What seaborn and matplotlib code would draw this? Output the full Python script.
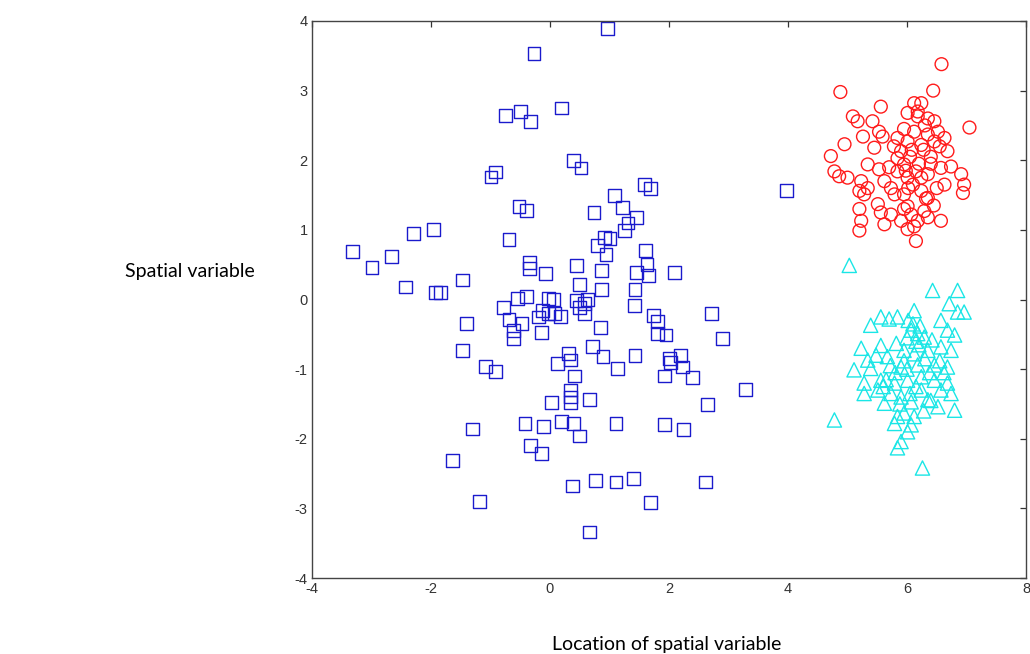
import numpy as np
import pandas as pd
import matplotlib
matplotlib.use("Agg")
import matplotlib.pyplot as plt
import seaborn as sns

# ---- data ----
blue_x = [-0.27, -0.75, -0.50, -0.33, -0.99, -0.92, -0.52, -0.40, -3.32, -2.99,
          -2.66, -2.29, -1.96, -2.43, -1.92, -1.84, -1.47, -0.69, -0.35, -0.35,
          -0.07, -0.54, -0.39, -0.02, 0.97, 0.20, 0.39, 0.52, 1.59, 1.69,
          3.97, 1.08, 0.74, 1.22, 1.45, 1.31, 1.25, 0.91, 1.01, 0.80,
          0.94, 1.60, 1.63, 1.65, 1.45, 2.09, 0.45, 0.86, 0.50, 0.86,
          1.43, 0.06, 0.44, 0.63, -0.78, -0.69, -0.47, -0.62, -0.62, -0.19,
          -0.12, -0.14, -1.41, -1.47, -1.08, -0.91, -1.30, -1.64, -1.19, -0.42,
          -0.11, -0.33, -0.14, -0.03, 0.07, 0.17, 0.58, 0.58, 0.50, 1.42,
          0.85, 1.74, 1.80, 1.81, 1.95, 2.71, 2.90, 0.72, 0.89, 1.13,
          1.43, 0.31, 0.35, 0.13, 0.41, 2.01, 2.03, 2.20, 2.23, 1.92,
          2.40, 3.29, 0.35, 0.35, 0.35, 0.03, 0.66, 2.65, 0.20, 0.39,
          0.49, 1.11, 1.93, 2.24, 0.38, 0.77, 1.11, 1.41, 2.62, 1.69,
          0.66]
blue_y = [3.53, 2.64, 2.70, 2.56, 1.76, 1.83, 1.34, 1.28, 0.69, 0.46,
          0.62, 0.95, 1.01, 0.18, 0.10, 0.10, 0.28, 0.86, 0.53, 0.44,
          0.37, 0.02, 0.04, 0.01, 3.89, 2.75, 2.00, 1.89, 1.65, 1.60,
          1.56, 1.49, 1.25, 1.32, 1.18, 1.10, 0.99, 0.89, 0.88, 0.78,
          0.65, 0.70, 0.50, 0.34, 0.39, 0.39, 0.49, 0.42, 0.21, 0.14,
          0.14, 0.00, -0.01, 0.00, -0.11, -0.29, -0.35, -0.44, -0.56, -0.25,
          -0.16, -0.47, -0.35, -0.73, -0.96, -1.03, -1.86, -2.31, -2.90, -1.78,
          -1.82, -2.10, -2.21, -0.20, -0.20, -0.24, -0.06, -0.20, -0.12, -0.09,
          -0.40, -0.23, -0.32, -0.49, -0.51, -0.20, -0.56, -0.68, -0.82, -0.99,
          -0.80, -0.77, -0.87, -0.92, -1.10, -0.85, -0.90, -0.80, -0.97, -1.10,
          -1.12, -1.29, -1.30, -1.40, -1.48, -1.48, -1.44, -1.51, -1.75, -1.78,
          -1.96, -1.78, -1.80, -1.87, -2.68, -2.60, -2.62, -2.57, -2.62, -2.92,
          -3.34]

red_x = [6.58, 4.88, 6.44, 5.56, 6.12, 6.24, 5.09, 5.17, 5.42, 6.01,
         6.18, 6.35, 6.46, 7.05, 5.53, 5.59, 5.26, 4.95, 5.45, 5.84,
         5.90, 6.01, 6.12, 6.24, 6.35, 6.46, 6.52, 6.63, 6.68, 4.72,
         5.84, 5.95, 4.78, 4.86, 5.00, 5.34, 5.53, 5.23, 5.20, 5.34,
         5.28, 5.62, 5.73, 5.84, 6.01, 6.15, 6.24, 6.35, 6.57, 6.74,
         6.91, 6.96, 6.94, 6.63, 5.79, 5.95, 6.24, 6.35, 5.20, 5.23,
         5.20, 5.51, 5.56, 5.73, 5.62, 6.01, 6.07, 6.18, 6.29, 6.35,
         6.57, 6.01, 6.15, 5.90, 5.95, 6.05, 6.20, 6.40, 6.10, 5.70,
         6.50, 5.95, 6.45, 6.30, 6.08, 6.28, 5.98, 6.18, 6.40, 5.78,
         6.12, 6.55, 6.02, 6.32]
red_y = [3.38, 2.98, 3.00, 2.77, 2.82, 2.82, 2.63, 2.56, 2.56, 2.68,
         2.63, 2.60, 2.56, 2.47, 2.41, 2.34, 2.34, 2.23, 2.18, 2.32,
         2.13, 2.27, 2.41, 2.22, 2.37, 2.27, 2.41, 2.32, 2.13, 2.06,
         2.03, 1.94, 1.84, 1.77, 1.75, 1.94, 1.87, 1.70, 1.56, 1.60,
         1.51, 1.70, 1.60, 1.84, 1.75, 1.84, 1.75, 1.80, 1.89, 1.91,
         1.80, 1.65, 1.53, 1.65, 1.51, 1.51, 1.56, 1.46, 1.30, 1.13,
         0.99, 1.37, 1.25, 1.22, 1.08, 1.34, 1.22, 1.13, 1.27, 1.18,
         1.13, 1.01, 0.84, 1.13, 2.45, 2.05, 1.95, 2.05, 1.65, 1.90,
         1.60, 1.30, 1.35, 2.50, 2.15, 2.15, 1.85, 2.70, 1.95, 2.20,
         1.05, 2.20, 1.60, 1.45]

cyan_x = [5.03, 6.43, 6.85, 6.71, 6.96, 6.85, 6.12, 5.39, 5.56, 5.70,
          5.84, 6.57, 6.68, 6.80, 6.07, 6.18, 6.29, 5.23, 5.56, 5.82,
          5.95, 6.12, 6.35, 6.57, 6.74, 5.34, 5.67, 5.11, 5.39, 5.90,
          6.18, 6.46, 6.68, 5.28, 5.56, 5.79, 6.01, 6.24, 6.46, 6.68,
          5.28, 5.51, 5.73, 5.90, 6.24, 6.57, 6.74, 5.62, 6.07, 6.35,
          6.52, 6.80, 4.78, 5.84, 5.95, 6.12, 5.79, 6.07, 6.01, 5.90,
          5.84, 6.26, 6.00, 6.30, 5.80, 6.15, 6.40, 5.65, 6.20, 6.00,
          6.10, 6.22, 5.95, 6.38, 5.72, 6.05, 6.28, 5.48, 6.55, 6.15,
          5.88, 6.42, 5.60, 6.62, 6.02]
cyan_y = [0.49, 0.13, 0.13, -0.06, -0.18, -0.18, -0.16, -0.37, -0.25, -0.28,
          -0.25, -0.30, -0.44, -0.51, -0.44, -0.49, -0.54, -0.70, -0.66, -0.63,
          -0.73, -0.78, -0.73, -0.68, -0.73, -0.87, -0.82, -1.01, -0.99, -0.97,
          -0.94, -0.94, -0.97, -1.20, -1.16, -1.20, -1.16, -1.11, -1.16, -1.20,
          -1.35, -1.30, -1.35, -1.40, -1.30, -1.30, -1.35, -1.49, -1.47, -1.44,
          -1.54, -1.59, -1.73, -1.68, -1.63, -1.68, -1.78, -1.80, -1.90, -2.04,
          -2.13, -2.42, -0.55, -0.85, -1.05, -1.25, -1.45, -1.15, -0.65, -1.00,
          -0.35, -0.38, -0.88, -1.05, -0.95, -1.35, -1.60, -0.80, -0.88, -0.60,
          -1.50, -0.58, -1.25, -1.05, -0.30]

x_ticks = [-4, -2, 0, 2, 4, 6, 8]
y_ticks = [-4, -3, -2, -1, 0, 1, 2, 3, 4]
x_label = "Location of spatial variable"
y_label = "Spatial variable"

# ---- plot ----
sns.set_style("white")
plt.rcParams["font.family"] = ["Liberation Sans", "DejaVu Sans"]
plt.rcParams["axes.unicode_minus"] = False

fig = plt.figure(figsize=(10.30, 6.54), dpi=100)
ax = fig.add_axes([312 / 1030, 1 - 578 / 654, 714 / 1030, 557 / 654])

groups = [
    (blue_x, blue_y, "s", 85, "#1a1acc"),
    (red_x, red_y, "o", 85, "#ff1a1a"),
    (cyan_x, cyan_y, "^", 105, "#1ae6e6"),
]
for gx, gy, mk, sz, col in groups:
    sns.scatterplot(x=gx, y=gy, marker=mk, s=sz, facecolors="none",
                    edgecolor=col, linewidth=1.0, ax=ax, legend=False)

ax.set_xlim(-4, 8)
ax.set_ylim(-4, 4)
ax.set_xticks(x_ticks)
ax.set_yticks(y_ticks)
ax.tick_params(direction="in", length=4, width=0.9, colors="#333333",
               labelsize=10.5, top=True, right=True, pad=3)
for sp in ax.spines.values():
    sp.set_color("#444444")
    sp.set_linewidth(1.0)
    sp.set_visible(True)

ax.set_xlabel(x_label, family=["Lato", "DejaVu Sans"], fontsize=14, color="black")
ax.set_ylabel(y_label, family=["Lato", "DejaVu Sans"], fontsize=14, color="black",
              rotation=0, ha="center", va="center")
ax.xaxis.set_label_coords((667 - 312) / 714, (578 - 636) / 557)
ax.yaxis.set_label_coords((190 - 312) / 714, (578 - 272) / 557)

fig.savefig("out.png", dpi=100)
